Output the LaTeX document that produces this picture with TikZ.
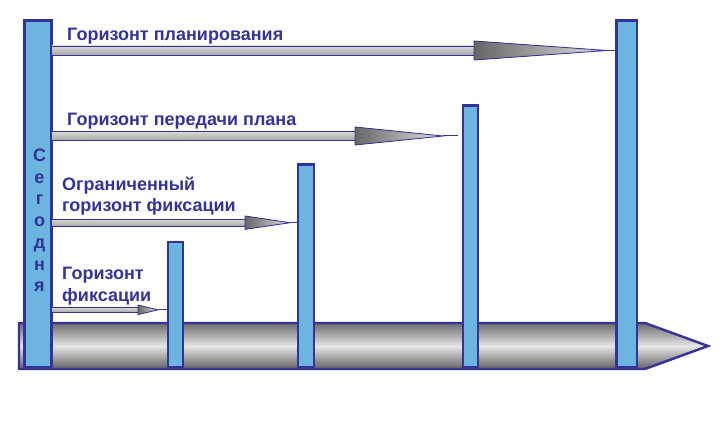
\documentclass[tikz,border=0pt]{standalone}
\usepackage{fontspec}
\setmainfont{Liberation Sans}
\usetikzlibrary{calc}

\definecolor{frame}{RGB}{51,51,153}
\definecolor{barblue}{RGB}{107,181,223}

\begin{document}
\begin{tikzpicture}[x=1pt, y=-1pt,
    bar/.style={draw=frame, line width=2.6pt, fill=barblue, inner sep=0pt, outer sep=0pt, anchor=south},
    timeline/.style={draw=frame, line width=2.4pt, top color=black!58, bottom color=black!62, middle color=black!10},
    shaft/.style={draw=frame, line width=0.8pt, top color=black!15, bottom color=black!35},
    head/.style={draw=frame, line width=0.8pt, left color=black!60, right color=black!12},
    tipline/.style={draw=frame, line width=1pt},
    label/.style={text=frame, font=\fontsize{18}{21.7}\selectfont\bfseries, inner sep=0pt, anchor=base west, align=left}]
    \useasboundingbox (0,0) rectangle (720,425);

    % time axis
    \draw[timeline] (19,323) -- (645,323) -- (708,346) -- (645,369) -- (19,369) -- cycle;

    % bars
    \node[bar, minimum width=27.4pt, minimum height=346.7pt] (today) at (38,367) {};
    \node[bar, minimum width=15.2pt, minimum height=125pt] (fix1) at (175.5,367) {};
    \node[bar, minimum width=15.7pt, minimum height=202.7pt] (fix2) at (306,367) {};
    \node[bar, minimum width=15pt, minimum height=261.4pt] (trans) at (470.5,367) {};
    \node[bar, minimum width=20.7pt, minimum height=346.7pt] (plan) at (626.7,367) {};

    % multi-line nodes sit on the baseline of their last line
    \node[label, align=center, anchor=base] (ltoday) at (39.5,291.7) {С\\е\\г\\о\\д\\н\\я};

    % horizons
    \coordinate (s1) at (today.east |- 0,50.5);
    \filldraw[shaft] ($(s1)+(0,-4.5)$) rectangle (474,55);
    \filldraw[head] (474,41) -- (607,50.5) -- (474,60) -- cycle;
    \draw[tipline] (607,50.5) -- (plan.west |- s1);
    \node[label] (lplan) at (67,41) {Горизонт планирования};

    \coordinate (s2) at (today.east |- 0,136);
    \filldraw[shaft] ($(s2)+(0,-4.5)$) rectangle (355,140.5);
    \filldraw[head] (355,127) -- (443,136) -- (355,145) -- cycle;
    \draw[tipline] (443,136) -- ([xshift=-5pt]trans.west |- s2);
    \node[label] (ltrans) at (67,126) {Горизонт передачи плана};

    \coordinate (s3) at (today.east |- 0,222.7);
    \filldraw[shaft] ($(s3)+(0,-3.4)$) rectangle (245,226.1);
    \filldraw[head] (245,216) -- (290,222.7) -- (245,229.4) -- cycle;
    \draw[tipline] (290,222.7) -- (fix2.west |- s3);
    \node[label] (lfix2) at (62,211.7) {Ограниченный\\горизонт фиксации};

    \coordinate (s4) at (today.east |- 0,309.8);
    \filldraw[shaft] ($(s4)+(0,-2.5)$) rectangle (138,312.3);
    \filldraw[head] (138,305) -- (158,309.8) -- (138,314.6) -- cycle;
    \draw[tipline] (158,309.8) -- (fix1.west |- s4);
    \node[label] (lfix1) at (62,301) {Горизонт\\фиксации};
\end{tikzpicture}
\end{document}
